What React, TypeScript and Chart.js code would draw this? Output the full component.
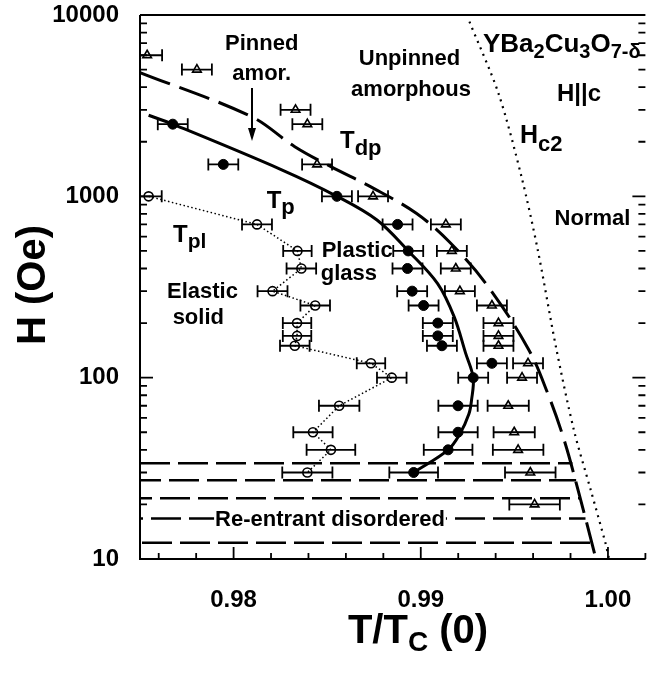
import { useEffect, useRef } from "react";
import { Chart, registerables } from "chart.js";

Chart.register(...registerables);

const FONT = '"Liberation Sans", Arial, Helvetica, sans-serif';

// ---- axes ----
const xRange = [0.975, 1.002];
const yRange = [10, 10000];
const xTickValues = [0.98, 0.99, 1.0];
const yTickValues = [10, 100, 1000, 10000];

// ---- T_dp : open triangles ----
const tdpH = [6000, 5000, 3000, 2500, 1500, 1000, 700, 500, 400, 300, 250, 200, 170, 150, 120, 100, 70, 50, 40, 30, 20];
const tdpT = [0.97538, 0.97804, 0.98331, 0.98394, 0.98446, 0.98745, 0.99134, 0.99166, 0.99187, 0.99209, 0.9938, 0.99415, 0.99415, 0.99415, 0.99573, 0.99541, 0.99467, 0.99499, 0.9952, 0.99585, 0.99608];
const tdpErr = [0.0008, 0.0008, 0.0008, 0.0008, 0.0008, 0.0008, 0.0008, 0.0008, 0.0008, 0.0008, 0.0008, 0.0008, 0.0008, 0.0008, 0.0008, 0.0008, 0.0011, 0.0011, 0.00135, 0.00135, 0.00135];

// ---- T_p : filled circles ----
const tpH = [2500, 1500, 1000, 700, 500, 400, 300, 250, 200, 170, 150, 120, 100, 70, 50, 40, 30];
const tpT = [0.97675, 0.97945, 0.98552, 0.98876, 0.98933, 0.98929, 0.98954, 0.99015, 0.99091, 0.99091, 0.99113, 0.9938, 0.9928, 0.99199, 0.99199, 0.99146, 0.98962];
const tpErr = [0.0008, 0.0008, 0.0008, 0.0008, 0.0008, 0.0008, 0.0008, 0.0008, 0.0008, 0.0008, 0.0008, 0.0008, 0.0008, 0.00105, 0.00105, 0.0013, 0.0013];

// ---- T_pl : open circles ----
const tplH = [1000, 700, 500, 400, 300, 250, 200, 170, 150, 120, 100, 70, 50, 40, 30];
const tplT = [0.97546, 0.98125, 0.98341, 0.98362, 0.98208, 0.98436, 0.98339, 0.98339, 0.98327, 0.98734, 0.98845, 0.98564, 0.98424, 0.9852, 0.98394];
const tplErr = [0.0007, 0.0008, 0.00076, 0.00079, 0.0008, 0.00079, 0.00076, 0.00076, 0.00079, 0.00076, 0.00079, 0.00108, 0.00105, 0.0013, 0.00134];

// ---- guide curves ----
const tpCurveH = [2800, 2500, 1400, 1000, 740, 500, 330, 217, 137, 100, 75, 63, 49, 40, 30];
const tpCurveT = [0.97546, 0.97675, 0.98257, 0.98552, 0.98766, 0.98933, 0.9909, 0.99178, 0.99239, 0.9928, 0.99271, 0.99257, 0.99209, 0.99146, 0.98962];

const tdpCurveH = [4817, 2748, 1878, 1457, 1107, 806, 562, 324, 145, 82, 45.3, 23, 10];
const tdpCurveT = [0.975, 0.98096, 0.98327, 0.9852, 0.98748, 0.98976, 0.99152, 0.99354, 0.99573, 0.99678, 0.99766, 0.99845, 0.99936];

const hc2H = [9184, 3698, 1283, 506, 148, 51.4, 24, 12.2, 10.1];
const hc2T = [0.9926, 0.99415, 0.99538, 0.99625, 0.99722, 0.99818, 0.99908, 0.99987, 1.00005];

// ---- re-entrant disordered horizontal lines ----
const reentrantH = [33.7, 27.2, 21.6, 16.7, 12.3];
const reentrantEndT = [0.9981, 0.9983, 0.9985, 0.9988, 0.9991];

const pts = (xs: number[], ys: number[]) => xs.map((x, i) => ({ x, y: ys[i] }));

type Run = { t: string; size: number; dy?: number };

function drawRuns(ctx: CanvasRenderingContext2D, runs: Run[], x: number, y: number, align: "left" | "center") {
  ctx.textBaseline = "alphabetic";
  ctx.textAlign = "left";
  const widths = runs.map((r) => {
    ctx.font = `bold ${r.size}px ${FONT}`;
    return ctx.measureText(r.t).width;
  });
  const total = widths.reduce((a, b) => a + b, 0);
  const left = align === "center" ? x - total / 2 : x;
  let cx = left;
  runs.forEach((r, i) => {
    ctx.font = `bold ${r.size}px ${FONT}`;
    ctx.fillText(r.t, cx, y + (r.dy || 0));
    cx += widths[i];
  });
  return { left, total };
}

const errorBarPlugin = {
  id: "errbars",
  beforeDatasetsDraw(chart: any) {
    const { ctx, chartArea: a, scales } = chart;
    const x = scales.x;
    const y = scales.y;
    ctx.save();
    ctx.beginPath();
    ctx.rect(a.left, a.top, a.right - a.left, a.bottom - a.top);
    ctx.clip();
    ctx.strokeStyle = "#000";
    ctx.lineWidth = 1.8;
    chart.data.datasets.forEach((ds: any) => {
      const errs = ds.xErr;
      if (!errs) return;
      ds.data.forEach((p: any, i: number) => {
        const py = y.getPixelForValue(p.y);
        const x0 = x.getPixelForValue(p.x - errs[i]);
        const x1 = x.getPixelForValue(p.x + errs[i]);
        ctx.beginPath();
        ctx.moveTo(x0, py);
        ctx.lineTo(x1, py);
        ctx.moveTo(x0, py - 6);
        ctx.lineTo(x0, py + 6);
        ctx.moveTo(x1, py - 6);
        ctx.lineTo(x1, py + 6);
        ctx.stroke();
      });
    });
    ctx.restore();
  },
};

const framePlugin = {
  id: "frame",
  afterDatasetsDraw(chart: any) {
    const { ctx, chartArea: a, scales } = chart;
    const x = scales.x;
    const y = scales.y;
    ctx.save();
    ctx.strokeStyle = "#000";
    ctx.lineWidth = 2;
    ctx.beginPath();
    ctx.moveTo(a.left, a.top);
    ctx.lineTo(a.right, a.top);
    ctx.moveTo(a.left, a.top);
    ctx.lineTo(a.left, a.bottom);
    ctx.lineTo(a.right, a.bottom);
    ctx.stroke();

    ctx.lineWidth = 1.8;
    ctx.beginPath();
    // x ticks (minor every 0.002, major every 0.01)
    for (let k = 488; k <= 501; k++) {
      const v = k * 0.002;
      const px = x.getPixelForValue(v);
      const major = Math.abs(v * 100 - Math.round(v * 100)) < 1e-6;
      const len = major ? 12 : 6;
      ctx.moveTo(px, a.bottom);
      ctx.lineTo(px, a.bottom - len);
    }
    // y ticks (log)
    for (let d = 1; d <= 3; d++) {
      for (let m = 1; m <= 9; m++) {
        const v = m * Math.pow(10, d);
        const py = y.getPixelForValue(v);
        const len = m === 1 ? 13 : 7;
        ctx.moveTo(a.left, py);
        ctx.lineTo(a.left + len, py);
        ctx.moveTo(a.right, py);
        ctx.lineTo(a.right - len, py);
      }
    }
    ctx.stroke();
    ctx.restore();
  },
};

const textPlugin = {
  id: "labels",
  afterDraw(chart: any) {
    const { ctx } = chart;
    ctx.save();
    ctx.fillStyle = "#000";

    drawRuns(ctx, [{ t: "Pinned", size: 22 }], 261.7, 50, "center");
    drawRuns(ctx, [{ t: "amor.", size: 22 }], 261.7, 80, "center");
    // arrow
    ctx.strokeStyle = "#000";
    ctx.lineWidth = 2;
    ctx.beginPath();
    ctx.moveTo(252, 88);
    ctx.lineTo(252, 131);
    ctx.stroke();
    ctx.beginPath();
    ctx.moveTo(252, 141);
    ctx.lineTo(248, 128);
    ctx.lineTo(256, 128);
    ctx.closePath();
    ctx.fill();

    drawRuns(ctx, [{ t: "Unpinned", size: 22 }], 409.5, 65, "center");
    drawRuns(ctx, [{ t: "amorphous", size: 22 }], 411, 96, "center");

    drawRuns(
      ctx,
      [
        { t: "YBa", size: 26 },
        { t: "2", size: 20, dy: 6 },
        { t: "Cu", size: 26 },
        { t: "3", size: 20, dy: 6 },
        { t: "O", size: 26 },
        { t: "7-\u03b4", size: 20, dy: 6 },
      ],
      483,
      52,
      "left"
    );
    drawRuns(ctx, [{ t: "H||c", size: 24 }], 579, 101, "center");
    drawRuns(ctx, [{ t: "H", size: 25 }, { t: "c2", size: 22, dy: 8 }], 520, 143, "left");
    drawRuns(ctx, [{ t: "T", size: 24 }, { t: "dp", size: 22, dy: 7 }], 340, 148, "left");
    drawRuns(ctx, [{ t: "T", size: 24 }, { t: "p", size: 22, dy: 6 }], 266.7, 208, "left");
    drawRuns(ctx, [{ t: "T", size: 24 }, { t: "pl", size: 21, dy: 6 }], 173, 241.7, "left");
    drawRuns(ctx, [{ t: "Normal", size: 22 }], 592.5, 225, "center");
    drawRuns(ctx, [{ t: "Plastic", size: 22 }], 321.7, 256.7, "left");
    drawRuns(ctx, [{ t: "glass", size: 22 }], 320.7, 280, "left");
    drawRuns(ctx, [{ t: "Elastic", size: 22 }], 202.5, 298.3, "center");
    drawRuns(ctx, [{ t: "solid", size: 22 }], 198.3, 324, "center");

    // Re-entrant label with white background
    ctx.font = `bold 22px ${FONT}`;
    const reText = "Re-entrant disordered";
    const w = ctx.measureText(reText).width;
    ctx.fillStyle = "#fff";
    ctx.fillRect(330 - w / 2 - 1, 505, w + 2, 26);
    ctx.fillStyle = "#000";
    drawRuns(ctx, [{ t: reText, size: 22 }], 330, 525.7, "center");

    // axis titles
    ctx.save();
    ctx.translate(31, 285);
    ctx.rotate(-Math.PI / 2);
    drawRuns(ctx, [{ t: "H (Oe)", size: 40 }], 0, 14, "center");
    ctx.restore();

    drawRuns(
      ctx,
      [
        { t: "T/T", size: 40 },
        { t: "C", size: 28, dy: 8 },
        { t: " (0)", size: 40 },
      ],
      418,
      643,
      "center"
    );
    ctx.restore();
  },
};

export default function App() {
  const ref = useRef<HTMLCanvasElement | null>(null);

  useEffect(() => {
    if (!ref.current) return;
    const black = "#000";
    const datasets: any[] = [
      {
        label: "Tp points",
        data: pts(tpT, tpH),
        xErr: tpErr,
        showLine: false,
        pointStyle: "circle",
        pointRadius: 5,
        pointBackgroundColor: black,
        pointBorderColor: black,
        pointBorderWidth: 1,
      },
      {
        label: "Tdp points",
        data: pts(tdpT, tdpH),
        xErr: tdpErr,
        showLine: false,
        pointStyle: "triangle",
        pointRadius: 5,
        pointBackgroundColor: "rgba(255,255,255,0)",
        pointBorderColor: black,
        pointBorderWidth: 1.6,
      },
      {
        label: "Tpl",
        data: pts(tplT, tplH),
        xErr: tplErr,
        showLine: true,
        borderColor: black,
        borderWidth: 1.5,
        borderDash: [1.5, 2.5],
        pointStyle: "circle",
        pointRadius: 4.5,
        pointBackgroundColor: "rgba(255,255,255,0)",
        pointBorderColor: black,
        pointBorderWidth: 1.6,
      },
      {
        label: "Tp curve",
        data: pts(tpCurveT, tpCurveH),
        showLine: true,
        borderColor: black,
        borderWidth: 3,
        tension: 0.35,
        pointRadius: 0,
      },
      {
        label: "Tdp curve",
        data: pts(tdpCurveT, tdpCurveH),
        showLine: true,
        borderColor: black,
        borderWidth: 3,
        borderDash: [32, 10],
        tension: 0.35,
        pointRadius: 0,
      },
      {
        label: "Hc2",
        data: pts(hc2T, hc2H),
        showLine: true,
        borderColor: black,
        borderWidth: 2.2,
        borderDash: [2, 5],
        tension: 0.3,
        pointRadius: 0,
      },
      ...reentrantH.map((h, i) => ({
        label: "re" + i,
        data: [
          { x: xRange[0], y: h },
          { x: reentrantEndT[i], y: h },
        ],
        showLine: true,
        borderColor: black,
        borderWidth: 2.5,
        borderDash: [30, 8],
        borderDashOffset: i * 9,
        pointRadius: 0,
      })),
    ];

    const chart = new Chart(ref.current, {
      type: "scatter",
      data: { datasets },
      options: {
        responsive: false,
        animation: false,
        devicePixelRatio: 1,
        events: [],
        layout: { padding: { top: 15, left: 0, right: 0, bottom: 0 } },
        plugins: { legend: { display: false }, tooltip: { enabled: false } },
        scales: {
          x: {
            type: "linear",
            position: "bottom",
            min: xRange[0],
            max: xRange[1],
            grid: { display: false },
            border: { display: false },
            afterBuildTicks: (s: any) => {
              s.ticks = xTickValues.map((v) => ({ value: v }));
            },
            afterFit: (s: any) => {
              s.height = 116;
              s.paddingLeft = 0;
              s.paddingRight = 0;
            },
            ticks: {
              color: black,
              padding: 19,
              maxRotation: 0,
              autoSkip: false,
              font: { family: FONT, size: 24, weight: "bold" },
              callback: (v: any) => Number(v).toFixed(2),
            },
          },
          y: {
            type: "logarithmic",
            position: "left",
            min: yRange[0],
            max: yRange[1],
            grid: { display: false },
            border: { display: false },
            afterBuildTicks: (s: any) => {
              s.ticks = yTickValues.map((v) => ({ value: v }));
            },
            afterFit: (s: any) => {
              s.width = 140;
              s.paddingTop = 0;
              s.paddingBottom = 0;
            },
            ticks: {
              color: black,
              padding: 13,
              autoSkip: false,
              font: { family: FONT, size: 24, weight: "bold" },
              callback: (v: any) => String(v),
            },
          },
        },
      } as any,
      plugins: [errorBarPlugin, framePlugin, textPlugin],
    });
    return () => chart.destroy();
  }, []);

  return (
    <div style={{ position: "absolute", left: 0, top: 0, width: 652, height: 675, background: "#fff" }}>
      <canvas ref={ref} width={652} height={675} style={{ display: "block" }} />
    </div>
  );
}
